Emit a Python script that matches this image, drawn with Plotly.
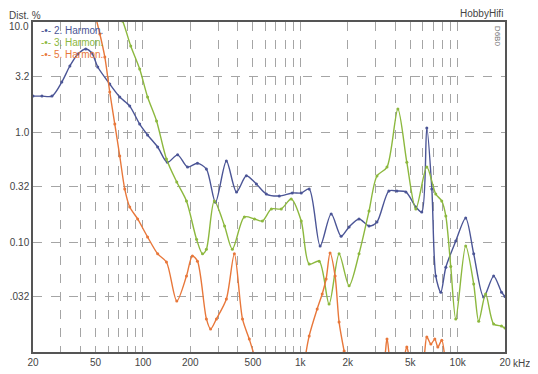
import plotly.graph_objects as go
import math

# ---- data (frequency in Hz, distortion in %) ----
blue_f = [20, 22.8, 26.4, 30.5, 34.3, 38.6, 43.3, 47.3, 51.6, 61.5, 71.2, 82.4, 95.3, 107, 124, 143, 166, 192, 222, 253,
          289, 339, 393, 454, 526, 608, 735, 889, 1014, 1139, 1337, 1571, 1817, 2042, 2362, 2734, 3070, 3656, 4111, 4689,
          5422, 5917, 6368, 6855, 7262, 7819, 8414, 9731, 11250, 12650, 14630, 16940, 19010, 20000]
blue_v = [2.12, 2.12, 2.12, 2.85, 3.98, 5.12, 5.69, 5.23, 3.90, 2.73, 2.08, 1.72, 1.18, 0.94, 0.73, 0.53, 0.62, 0.48, 0.52, 0.46,
          0.23, 0.545, 0.285, 0.40, 0.336, 0.273, 0.262, 0.279, 0.279, 0.303, 0.092, 0.18, 0.113, 0.137, 0.162, 0.14, 0.152, 0.291, 0.291, 0.285,
          0.208, 0.187, 1.09, 0.303, 0.049, 0.035, 0.059, 0.102, 0.165, 0.078, 0.0316, 0.049, 0.035, 0.032]

green_f = [63.3, 74.3, 83.6, 95.3, 107, 122, 141, 164, 189, 219, 239, 253, 284, 330, 370, 441, 511, 574, 655, 757,
           875, 1014, 1139, 1318, 1524, 1764, 2042, 2362, 2734, 3070, 3557, 4170, 4755, 5422, 6368, 7262, 7927, 8414, 9040, 9731,
           11250, 12650, 13610, 15060, 16940, 19010, 20000]
green_v = [16.2, 10.2, 6.05, 3.74, 2.08, 1.26, 0.569, 0.351, 0.236, 0.106, 0.078, 0.086, 0.236, 0.14, 0.086, 0.169, 0.162, 0.155, 0.2, 0.2,
           0.246, 0.155, 0.063, 0.067, 0.0273, 0.078, 0.04, 0.078, 0.191, 0.398, 0.48, 1.62, 0.53, 0.2, 0.48, 0.273, 0.236, 0.172, 0.06, 0.02,
           0.092, 0.0415, 0.019, 0.0337, 0.018, 0.0172, 0.0165]

orange_f = [45.9, 49.4, 53.2, 57.2, 61.5, 66.2, 71.2, 76.6, 82.4, 92.5, 107, 124, 141, 164, 189, 206, 222, 253, 269, 293,
            339, 381, 429, 474, 518, 600, 1000, 1059, 1139, 1280, 1378, 1459, 1546, 1664, 1764, 1899, 2050, 3303, 3557, 3819,
            4400, 4755, 5100, 5917, 6368, 6757, 7163, 7485, 7927, 8414, 9000]
orange_v = [16.2, 11.8, 7.78, 4.81, 2.31, 1.18, 0.605, 0.303, 0.208, 0.162, 0.111, 0.078, 0.0658, 0.0291, 0.049, 0.0746, 0.067, 0.02, 0.0162, 0.02,
            0.0303, 0.078, 0.02, 0.0131, 0.0086, 0.004, 0.004, 0.0078, 0.014, 0.0246, 0.0337, 0.0461, 0.0794, 0.049, 0.0187, 0.0102, 0.006, 0.0075, 0.0131, 0.0075,
            0.0075, 0.0111, 0.0075, 0.0075, 0.0137, 0.0118, 0.0131, 0.0111, 0.0128, 0.0075, 0.004]

series_names = ["2. Harmon.", "3. Harmon.", "5. Harmon."]
series_colors = ["#4b5596", "#8cb83e", "#e8773a"]

x_grid_vals = [20, 30, 40, 50, 60, 70, 80, 90, 100, 200, 300, 400, 500, 600, 700, 800, 900,
               1000, 2000, 3000, 4000, 5000, 6000, 7000, 8000, 9000, 10000, 20000]
x_labels = {20: "20", 50: "50", 100: "100", 200: "200", 500: "500", 1000: "1k", 2000: "2k",
            5000: "5k", 10000: "10k", 20000: "20"}
y_tick_vals = [3.2, 1.0, 0.32, 0.1, 0.032]
y_tick_text = ["3.2", "1.0", "0.32", "0.10", ".032"]

FONT = "Liberation Sans, Arial, sans-serif"
fig = go.Figure()
for f, v, name, col in zip([blue_f, green_f, orange_f], [blue_v, green_v, orange_v], series_names, series_colors):
    fig.add_trace(go.Scatter(x=f, y=v, name=name, mode="lines+markers",
                             line=dict(color=col, width=1.4, shape="spline", smoothing=0.8),
                             marker=dict(color=col, size=3), showlegend=False))

axis_col = "#555555"
fig.update_xaxes(type="log", range=[math.log10(20), math.log10(20000)], automargin=False,
                 tickvals=x_grid_vals, ticktext=[x_labels.get(v, "") for v in x_grid_vals],
                 showgrid=True, gridcolor="#a5a5a5", griddash="dash", gridwidth=1,
                 showline=True, linecolor=axis_col, linewidth=1.5, mirror=True,
                 ticks="", tickfont=dict(family=FONT, size=10, color="#444"), zeroline=False)
fig.update_yaxes(type="log", range=[-2, 1], automargin=False,
                 tickvals=y_tick_vals, ticktext=y_tick_text,
                 showgrid=True, gridcolor="#a5a5a5", griddash="dash", gridwidth=1,
                 showline=True, linecolor=axis_col, linewidth=1.5, mirror=True,
                 ticks="", tickfont=dict(family=FONT, size=10, color="#444"), zeroline=False)

ann = []
legend_y = [0.973, 0.937, 0.901]
for name, col, yy in zip(series_names, series_colors, legend_y):
    ann.append(dict(xref="paper", yref="paper", x=0.012, y=yy, xanchor="left", yanchor="middle",
                    text="-•- " + name, showarrow=False, font=dict(family=FONT, size=10, color=col)))
ann += [
    dict(xref="paper", yref="paper", x=-0.055, y=1.02, xanchor="left", yanchor="middle",
         text="Dist. %", showarrow=False, font=dict(family=FONT, size=10, color="#444")),
    dict(xref="paper", yref="paper", x=-0.004, y=0.985, xanchor="right", yanchor="middle",
         text="10.0", showarrow=False, font=dict(family=FONT, size=10, color="#444")),
    dict(xref="paper", yref="paper", x=1.0, y=1.025, xanchor="right", yanchor="middle",
         text="HobbyHifi", showarrow=False, font=dict(family=FONT, size=10, color="#444")),
    dict(xref="paper", yref="paper", x=0.983, y=0.955, xanchor="center", yanchor="middle", textangle=90,
         text="D6B0", showarrow=False, font=dict(family=FONT, size=8, color="#777")),
    dict(xref="x", yref="paper", x=math.log10(20000), y=0, xanchor="left", yanchor="top",
         xshift=6, yshift=-4, text="kHz", showarrow=False, font=dict(family=FONT, size=10, color="#444")),
]

# the page body adds an 8 px offset, so the figure is sized to fit the 538x374 window
fig.update_layout(width=530, height=366, margin=dict(l=25, r=33, t=14, b=22),
                  paper_bgcolor="white", plot_bgcolor="white", annotations=ann,
                  font=dict(family=FONT, size=10, color="#444"))
fig.write_html("out.html")
